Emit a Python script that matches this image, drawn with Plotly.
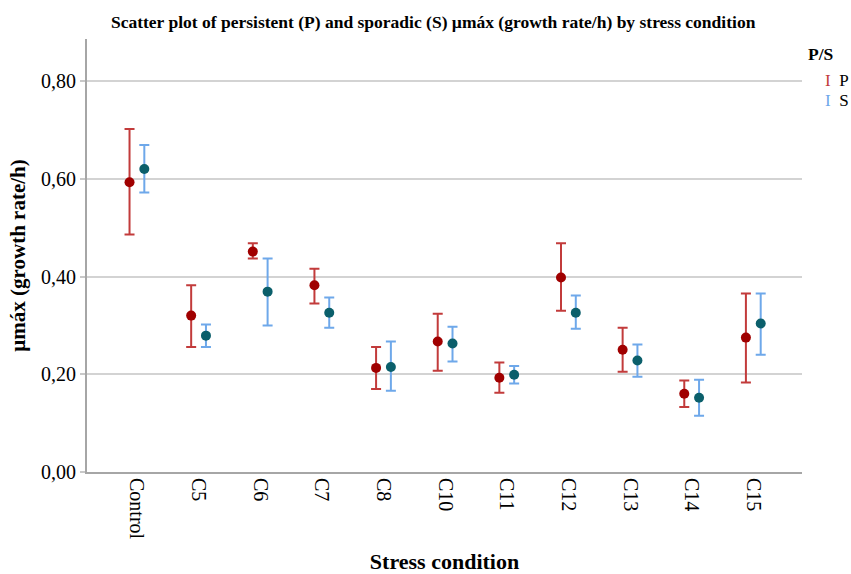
import plotly.graph_objects as go

categories = ["Control", "C5", "C6", "C7", "C8", "C10", "C11", "C12", "C13", "C14", "C15"]

p_mean = [0.593, 0.320, 0.451, 0.382, 0.213, 0.267, 0.193, 0.398, 0.250, 0.160, 0.275]
p_upper = [0.702, 0.382, 0.468, 0.416, 0.256, 0.324, 0.224, 0.468, 0.295, 0.187, 0.365]
p_lower = [0.486, 0.256, 0.437, 0.345, 0.170, 0.207, 0.162, 0.330, 0.205, 0.133, 0.183]

s_mean = [0.620, 0.279, 0.369, 0.326, 0.215, 0.263, 0.199, 0.326, 0.228, 0.152, 0.304]
s_upper = [0.669, 0.302, 0.437, 0.357, 0.267, 0.297, 0.217, 0.361, 0.261, 0.189, 0.365]
s_lower = [0.572, 0.256, 0.300, 0.295, 0.166, 0.226, 0.181, 0.293, 0.195, 0.115, 0.240]

y_ticks = [0.0, 0.2, 0.4, 0.6, 0.8]
y_ticktext = ["0,00", "0,20", "0,40", "0,60", "0,80"]

P_BAR = "#c23b3b"
P_DOT = "#a00000"
S_BAR = "#6ea8ea"
S_DOT = "#0b5f6b"
OFF = 0.12

xs = list(range(len(categories)))

fig = go.Figure()
fig.add_trace(go.Scatter(
    x=[x - OFF for x in xs], y=p_mean, mode="markers", name="P",
    marker=dict(color=P_DOT, size=10),
    error_y=dict(type="data", symmetric=False,
                 array=[u - m for u, m in zip(p_upper, p_mean)],
                 arrayminus=[m - l for m, l in zip(p_mean, p_lower)],
                 color=P_BAR, thickness=2, width=5),
    showlegend=False,
))
fig.add_trace(go.Scatter(
    x=[x + OFF for x in xs], y=s_mean, mode="markers", name="S",
    marker=dict(color=S_DOT, size=10),
    error_y=dict(type="data", symmetric=False,
                 array=[u - m for u, m in zip(s_upper, s_mean)],
                 arrayminus=[m - l for m, l in zip(s_mean, s_lower)],
                 color=S_BAR, thickness=2, width=5),
    showlegend=False,
))

serif = "Liberation Serif"

fig.update_layout(
    width=851, height=574,
    margin=dict(l=87, r=49, t=39, b=102, autoexpand=False),
    paper_bgcolor="white", plot_bgcolor="white",
    font=dict(family=serif, color="black"),
    title=dict(text="<b>Scatter plot of persistent (P) and sporadic (S) µmáx (growth rate/h) by stress condition</b>",
               x=0.509, xanchor="center", y=0.962, yanchor="middle",
               font=dict(size=17.5, family=serif, color="black")),
    xaxis=dict(range=[-0.81, 10.79], tickmode="array", tickvals=xs, ticktext=categories,
               tickangle=90, showgrid=False, zeroline=False, showline=True,
               linecolor="#a6a6a6", linewidth=2, ticks="", automargin=False,
               tickfont=dict(size=20, family=serif, color="black"),
               title=dict(text="<b>Stress condition</b>", font=dict(size=22, family=serif), standoff=19)),
    yaxis=dict(range=[0, 0.886], tickmode="array", tickvals=y_ticks, ticktext=y_ticktext,
               showgrid=True, gridcolor="#d3d3d3", gridwidth=1.5, zeroline=False,
               showline=True, linecolor="#a6a6a6", linewidth=2, ticks="outside",
               ticklen=5, tickcolor="#c8c8c8", tickwidth=1.5, automargin=False,
               tickfont=dict(size=20, family=serif, color="black"),
               title=dict(text="<b>µmáx (growth rate/h)</b>", font=dict(size=21, family=serif), standoff=10)),
)

fig.add_annotation(x=1.006, y=0.965, xref="paper", yref="paper", xanchor="left", yanchor="middle",
                   text="<b>P/S</b>", showarrow=False, font=dict(size=17.5, family=serif, color="black"))
fig.add_annotation(x=1.029, y=0.905, xref="paper", yref="paper", xanchor="left", yanchor="middle",
                   text=f"<span style='color:{P_BAR}'>I</span>  P", showarrow=False,
                   font=dict(size=17, family=serif, color="black"))
fig.add_annotation(x=1.029, y=0.858, xref="paper", yref="paper", xanchor="left", yanchor="middle",
                   text=f"<span style='color:{S_BAR}'>I</span>  S", showarrow=False,
                   font=dict(size=17, family=serif, color="black"))

fig.write_html("out.html",
               config={"displayModeBar": False},
               post_script="document.body.style.margin='0';document.body.style.overflow='hidden';")
